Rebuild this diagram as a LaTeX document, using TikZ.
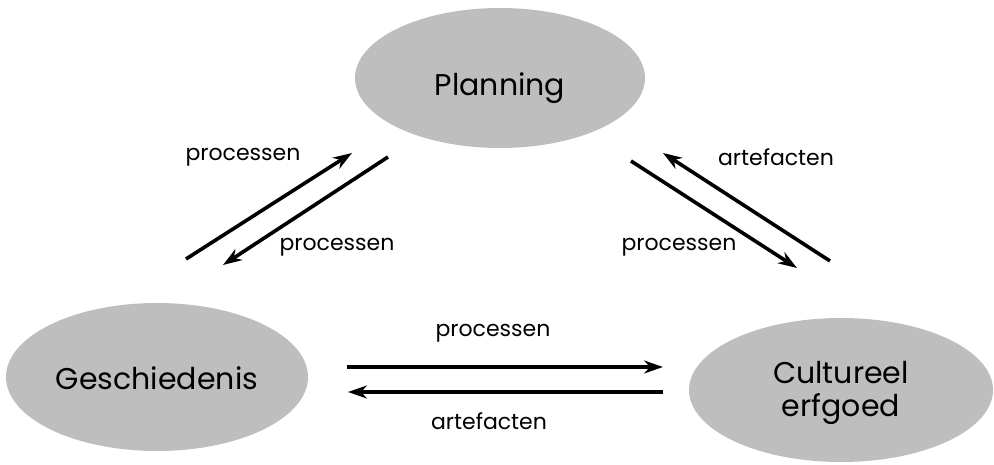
\documentclass[tikz,border=0pt]{standalone}
\usepackage{fontspec}
\setmainfont{Poppins}
\usetikzlibrary{arrows.meta}
\definecolor{ellgray}{RGB}{190,190,190}
\begin{document}
\begin{tikzpicture}[x=1pt,y=-1pt,
  bigtext/.style={font=\fontsize{30}{33}\selectfont,align=center},
  lbl/.style={font=\fontsize{22}{26}\selectfont,inner sep=0pt},
  conn/.style={line width=3.6pt,-{Stealth[length=19pt,width=13pt]}}]
\useasboundingbox (0,0) rectangle (994,465);
\fill[ellgray] (500,78) ellipse [x radius=145, y radius=70];
\node[bigtext] (plan) at (500,88) {Planning};
\fill[ellgray] (157,377) ellipse [x radius=151, y radius=74];
\node[bigtext] (gesch) at (157,378) {Geschiedenis};
\fill[ellgray] (841,390) ellipse [x radius=152, y radius=72];
\node[bigtext] (cult) at (841,393) {Cultureel\\erfgoed};
% coordinates
\coordinate (a1s) at (186,259); \coordinate (a1e) at (352,153);
\coordinate (a2s) at (388,157); \coordinate (a2e) at (223,265);
\coordinate (a3s) at (631,161); \coordinate (a3e) at (797,268);
\coordinate (a4s) at (830,261); \coordinate (a4e) at (663,153);
\coordinate (a5s) at (347,367); \coordinate (a5e) at (663,367);
\coordinate (a6s) at (663,392); \coordinate (a6e) at (348,392);
\draw[conn] (a1s) -- (a1e);
\draw[conn] (a2s) -- (a2e);
\draw[conn] (a3s) -- (a3e);
\draw[conn] (a4s) -- (a4e);
\draw[conn] (a5s) -- (a5e);
\draw[conn] (a6s) -- (a6e);
\node[lbl] (l1) at (243,157) {processen};
\node[lbl] (l2) at (337,247) {processen};
\node[lbl] (l3) at (776,157) {artefacten};
\node[lbl] (l4) at (679,247) {processen};
\node[lbl] (l5) at (493,333) {processen};
\node[lbl] (l6) at (489,421) {artefacten};
\end{tikzpicture}
\end{document}
